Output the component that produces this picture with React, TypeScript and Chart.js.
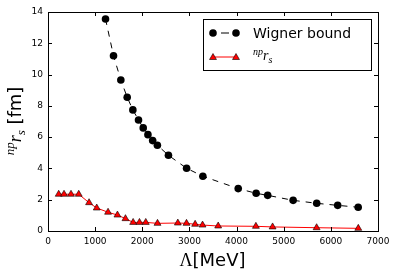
import React, { useEffect, useRef } from "react";
import { Chart, registerables } from "chart.js";

Chart.register(...registerables);

const wignerX = [1220, 1390, 1545, 1680, 1800, 1920, 2020, 2120, 2220, 2320, 2555, 2940, 3285, 4035, 4415, 4660, 5200, 5700, 6145, 6580];
const wignerY = [13.55, 11.2, 9.65, 8.55, 7.74, 7.1, 6.59, 6.16, 5.78, 5.48, 4.84, 4.01, 3.5, 2.71, 2.41, 2.28, 1.96, 1.77, 1.64, 1.52];

const npX = [227, 340, 488, 652, 871, 1034, 1274, 1473, 1643, 1806, 1940, 2074, 2323, 2754, 2938, 3121, 3278, 3610, 4410, 4764, 5698, 6582];
const npY = [2.35, 2.35, 2.35, 2.35, 1.81, 1.47, 1.2, 1.02, 0.79, 0.55, 0.55, 0.55, 0.49, 0.51, 0.49, 0.43, 0.38, 0.32, 0.3, 0.26, 0.21, 0.17];

const xTicks = [0, 1000, 2000, 3000, 4000, 5000, 6000, 7000];
const yTicks = [0, 2, 4, 6, 8, 10, 12, 14];

const legendLabels = ["Wigner bound", "npr_s"];

const SANS = "'DejaVu Sans', sans-serif";
const SERIF = "'Liberation Serif', 'DejaVu Serif', serif";

type Seg = { text: string; font: string; dy: number };

function segWidth(ctx: CanvasRenderingContext2D, segs: Seg[]) {
  let w = 0;
  for (const s of segs) {
    ctx.font = s.font;
    w += ctx.measureText(s.text).width;
  }
  return w;
}

function drawSegs(ctx: CanvasRenderingContext2D, segs: Seg[], x: number, y: number) {
  let cx = x;
  for (const s of segs) {
    ctx.font = s.font;
    ctx.fillText(s.text, cx, y + s.dy);
    cx += ctx.measureText(s.text).width;
  }
}

function triangle(ctx: CanvasRenderingContext2D, x: number, y: number, r: number) {
  ctx.beginPath();
  ctx.moveTo(x, y - r);
  ctx.lineTo(x + 0.866 * r, y + 0.5 * r);
  ctx.lineTo(x - 0.866 * r, y + 0.5 * r);
  ctx.closePath();
  ctx.fillStyle = "#ff0000";
  ctx.fill();
  ctx.lineWidth = 0.6;
  ctx.strokeStyle = "#000";
  ctx.stroke();
}

const decorPlugin = {
  id: "decor",
  afterDraw(chart: any) {
    const ctx: CanvasRenderingContext2D = chart.ctx;
    const { left, right, top, bottom } = chart.chartArea;
    const xs = chart.scales.x;
    const ys = chart.scales.y;
    ctx.save();
    ctx.strokeStyle = "#000";
    ctx.lineWidth = 1;
    ctx.setLineDash([]);
    ctx.strokeRect(Math.round(left) + 0.5, Math.round(top) + 0.5, Math.round(right - left), Math.round(bottom - top));
    const tl = 4;
    ctx.beginPath();
    for (const v of xTicks) {
      const px = Math.round(xs.getPixelForValue(v)) + 0.5;
      ctx.moveTo(px, bottom);
      ctx.lineTo(px, bottom - tl);
      ctx.moveTo(px, top);
      ctx.lineTo(px, top + tl);
    }
    for (const v of yTicks) {
      const py = Math.round(ys.getPixelForValue(v)) + 0.5;
      ctx.moveTo(left, py);
      ctx.lineTo(left + tl, py);
      ctx.moveTo(right, py);
      ctx.lineTo(right - tl, py);
    }
    ctx.stroke();

    // legend
    const bx = 203.5, by = 19.5, bw = 168, bh = 51;
    ctx.fillStyle = "#fff";
    ctx.fillRect(bx, by, bw, bh);
    ctx.strokeStyle = "#000";
    ctx.lineWidth = 1;
    ctx.strokeRect(bx, by, bw, bh);
    const m1 = 213, m2 = 236, r1 = 33, r2 = 57;
    ctx.beginPath();
    ctx.moveTo(221, r1);
    ctx.lineTo(229, r1);
    ctx.stroke();
    ctx.fillStyle = "#000";
    for (const mx of [m1, m2]) {
      ctx.beginPath();
      ctx.arc(mx, r1, 3.8, 0, Math.PI * 2);
      ctx.fill();
    }
    ctx.strokeStyle = "#ff0000";
    ctx.beginPath();
    ctx.moveTo(m1, r2);
    ctx.lineTo(m2, r2);
    ctx.stroke();
    triangle(ctx, m1, r2 + 0.5, 4);
    triangle(ctx, m2, r2 + 0.5, 4);

    ctx.fillStyle = "#000";
    ctx.textBaseline = "alphabetic";
    ctx.textAlign = "left";
    ctx.font = `14px ${SANS}`;
    ctx.fillText(legendLabels[0], 253, r1 + 5);
    const legSegs: Seg[] = [
      { text: "np", font: `italic 10px ${SERIF}`, dy: -5 },
      { text: "r", font: `italic 14px ${SERIF}`, dy: 0 },
      { text: "s", font: `italic 10px ${SERIF}`, dy: 3 },
    ];
    drawSegs(ctx, legSegs, 253, r2 + 3);

    // x title
    const xSegs: Seg[] = [
      { text: "\u039B", font: `18px ${SERIF}`, dy: 0 },
      { text: "[MeV]", font: `18px ${SANS}`, dy: 0 },
    ];
    const xw = segWidth(ctx, xSegs);
    drawSegs(ctx, xSegs, 212.5 - xw / 2, 266);

    // y title
    const ySegs: Seg[] = [
      { text: "np", font: `italic 13px ${SERIF}`, dy: -7 },
      { text: "r", font: `italic 18px ${SERIF}`, dy: 0 },
      { text: "s", font: `italic 13px ${SERIF}`, dy: 4 },
      { text: " [fm]", font: `18px ${SANS}`, dy: 0 },
    ];
    const yw = segWidth(ctx, ySegs);
    ctx.translate(21, 121);
    ctx.rotate(-Math.PI / 2);
    drawSegs(ctx, ySegs, -yw / 2, 0);
    ctx.restore();
  },
};

export default function App() {
  const ref = useRef<HTMLCanvasElement | null>(null);
  useEffect(() => {
    document.body.style.margin = "0";
    const canvas = ref.current!;
    const chart = new Chart(canvas, {
      type: "scatter",
      data: {
        datasets: [
          {
            label: legendLabels[1],
            data: npX.map((x, i) => ({ x, y: npY[i] })),
            showLine: true,
            borderColor: "#ff0000",
            borderWidth: 1,
            pointStyle: "triangle",
            pointRadius: 4,
            pointBackgroundColor: "#ff0000",
            pointBorderColor: "#000",
            pointBorderWidth: 0.6,
          },
          {
            label: legendLabels[0],
            data: wignerX.map((x, i) => ({ x, y: wignerY[i] })),
            showLine: true,
            borderColor: "#000",
            borderWidth: 1,
            borderDash: [6, 6],
            pointStyle: "circle",
            pointRadius: 3.8,
            pointBackgroundColor: "#000",
            pointBorderColor: "#000",
            pointBorderWidth: 0,
          },
        ],
      },
      options: {
        animation: false,
        responsive: false,
        devicePixelRatio: 1,
        layout: { padding: { top: 12, right: 20, left: 0, bottom: 0 } },
        plugins: { legend: { display: false }, tooltip: { enabled: false } },
        scales: {
          x: {
            type: "linear",
            min: 0,
            max: 7000,
            afterBuildTicks: (s: any) => {
              s.ticks = xTicks.map((v) => ({ value: v }));
            },
            afterFit: (s: any) => {
              s.height = 46;
            },
            grid: { display: false, drawTicks: false },
            border: { display: false },
            ticks: {
              color: "#000",
              font: { family: "DejaVu Sans", size: 9 },
              padding: 5,
              maxRotation: 0,
              autoSkip: false,
              callback: (v: any) => String(v),
            },
          },
          y: {
            type: "linear",
            min: 0,
            max: 14,
            afterBuildTicks: (s: any) => {
              s.ticks = yTicks.map((v) => ({ value: v }));
            },
            afterFit: (s: any) => {
              s.width = 48;
            },
            grid: { display: false, drawTicks: false },
            border: { display: false },
            ticks: {
              color: "#000",
              font: { family: "DejaVu Sans", size: 9 },
              padding: 5,
              autoSkip: false,
              callback: (v: any) => String(v),
            },
          },
        },
      },
      plugins: [decorPlugin],
    });
    return () => chart.destroy();
  }, []);
  return (
    <div style={{ width: 398, height: 277 }}>
      <canvas ref={ref} width={398} height={277} style={{ display: "block" }} />
    </div>
  );
}
